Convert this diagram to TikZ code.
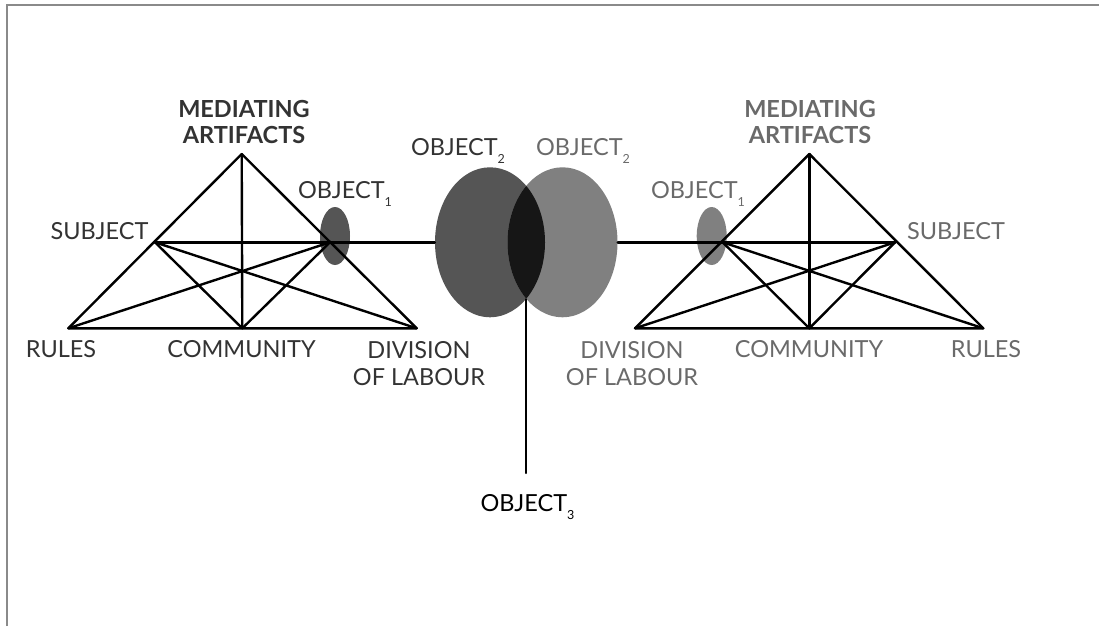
\documentclass[tikz,border=0pt]{standalone}
\usepackage{fontspec}
\setmainfont{Lato}
\usetikzlibrary{shapes.geometric}
\definecolor{objdark}{HTML}{555555}
\definecolor{objlight}{HTML}{808080}
\definecolor{lenscol}{HTML}{161616}
\definecolor{lefttext}{HTML}{333333}
\definecolor{righttext}{HTML}{6A6A6A}
\definecolor{framecol}{HTML}{8A8A8A}
\newcommand{\objsub}[1]{\raisebox{-8pt}{\fontsize{12.5}{12.5}\selectfont #1}}
\tikzset{
  link/.style={line width=2.4pt, line cap=round, line join=round},
  frame/.style={draw=framecol, line width=2pt},
  obj/.style={ellipse, inner sep=0pt, minimum width=30pt, minimum height=58pt},
  venn/.style={ellipse, inner sep=0pt, minimum width=110pt, minimum height=150pt},
  lbl/.style={anchor=base, inner sep=0pt, font=\fontsize{23.5}{26}\selectfont},
  head/.style={lbl, font=\fontsize{23.5}{26}\selectfont\bfseries}
}
\begin{document}
\begin{tikzpicture}[x=1pt,y=-1pt]
\useasboundingbox (0,0) rectangle (1099,626);
\draw[frame] (6.5,626) -- (6.5,5.5) -- (1099,5.5);

% left activity system
\coordinate (LA) at (241.7,154);
\coordinate (LS) at (155,242.3);
\coordinate (LO) at (330,242.3);
\coordinate (LR) at (68.3,328.3);
\coordinate (LC) at (242.3,328.3);
\coordinate (LD) at (416.7,328.3);
% right activity system
\coordinate (RA) at (809.3,154);
\coordinate (RO) at (722.7,242.3);
\coordinate (RS) at (895,242.3);
\coordinate (RD) at (635,328.3);
\coordinate (RC) at (809.3,328.3);
\coordinate (RR) at (983.3,328.3);

\node[obj, fill=objdark] (objL) at (335,236) {};
\node[obj, fill=objlight] (objR) at (711.7,236) {};

\node[venn, fill=objdark] (venL) at (490,242.3) {};
\node[venn, fill=objlight] (venR) at (562.5,242.3) {};
\begin{scope}
	\clip (490,242.3) ellipse [x radius=55, y radius=75];
	\fill[lenscol] (562.5,242.3) ellipse [x radius=55, y radius=75];
\end{scope}

\draw[link] (LO) -- (venL.west);
\draw[link] (venR.east) -- (RO);
\coordinate (lens) at (526.25,299.4);
\coordinate (stem) at (526.25,473);
\draw[link] (lens) -- (stem);

\draw[link] (LR) -- (LA) -- (LD) -- cycle;
\foreach \a/\b in {LA/LC, LS/LO, LS/LC, LS/LD, LO/LC, LO/LR}
{
	\draw[link] (\a) -- (\b);
}
\draw[link] (RD) -- (RA) -- (RR) -- cycle;
\foreach \a/\b in {RA/RC, RO/RS, RO/RC, RO/RR, RS/RC, RS/RD}
{
	\draw[link] (\a) -- (\b);
}

\node[head, text=lefttext] (medL) at (244,117) {MEDIATING};
\node[head, text=lefttext] (artL) at (244,143) {ARTIFACTS};
\node[lbl, text=lefttext] (subL) at (99.5,239) {SUBJECT};
\node[lbl, text=lefttext] (obL) at (345,198) {OBJECT\objsub{1}};
\node[lbl, text=lefttext] (rulL) at (61,357) {RULES};
\node[lbl, text=lefttext] (comL) at (241.5,357) {COMMUNITY};
\node[lbl, text=lefttext] (divL) at (419,358) {DIVISION};
\node[lbl, text=lefttext] (labL) at (419,385) {OF LABOUR};

\node[lbl, text=lefttext] (o2L) at (458,155) {OBJECT\objsub{2}};
\node[lbl, text=righttext] (o2R) at (583,155) {OBJECT\objsub{2}};
\node[lbl] (o3) at (527.5,511) {OBJECT\objsub{3}};

\node[head, text=righttext] (medR) at (810,117) {MEDIATING};
\node[head, text=righttext] (artR) at (810,143) {ARTIFACTS};
\node[lbl, text=righttext] (subR) at (956,239) {SUBJECT};
\node[lbl, text=righttext] (obR) at (698,198) {OBJECT\objsub{1}};
\node[lbl, text=righttext] (divR) at (632,358) {DIVISION};
\node[lbl, text=righttext] (labR) at (632,385) {OF LABOUR};
\node[lbl, text=righttext] (comR) at (809,357) {COMMUNITY};
\node[lbl, text=righttext] (rulR) at (986,357) {RULES};
\end{tikzpicture}
\end{document}
